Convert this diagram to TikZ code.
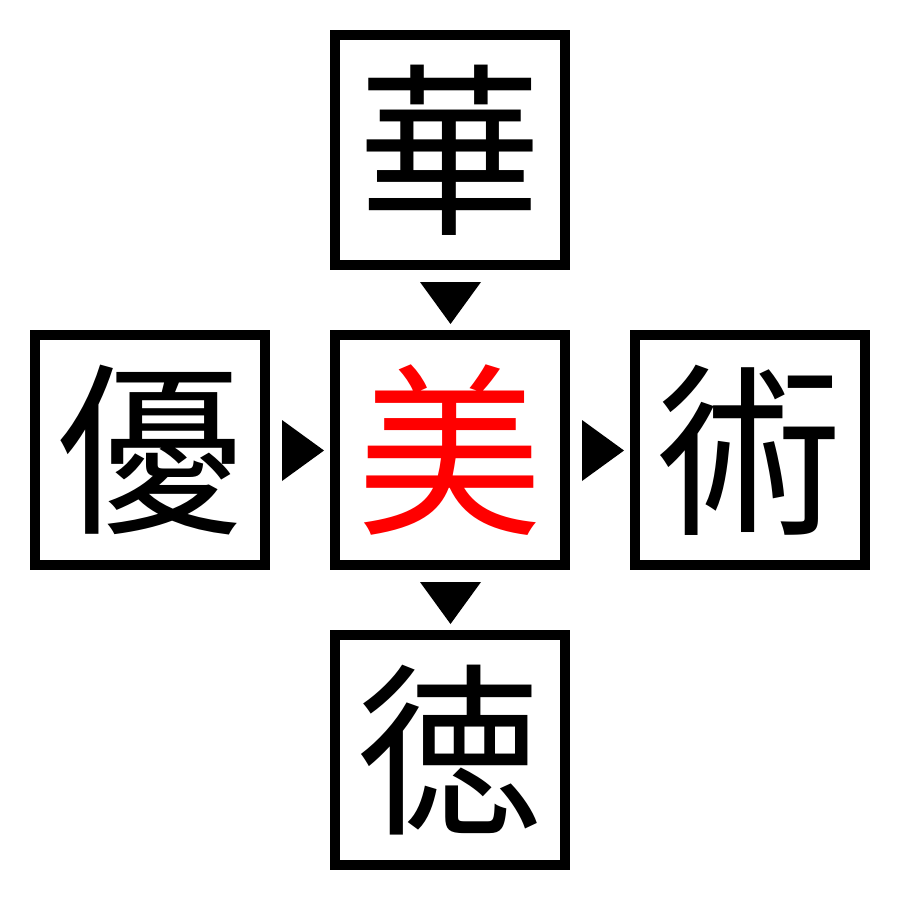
\documentclass[tikz,border=0pt]{standalone}
\usepackage{fontspec}
\usetikzlibrary{calc}
\newfontfamily\cjk{Noto Sans CJK JP}
\begin{document}
\begin{tikzpicture}[x=1pt,y=-1pt,
  charbox/.style={draw=black,line width=10pt,minimum size=230pt,inner sep=0pt,font=\cjk\fontsize{185pt}{185pt}\selectfont},
  tri/.style={fill=black,draw=none}]
\useasboundingbox (0,0) rectangle (900,900);
\node[charbox] (top) at (450,150) {華};
\node[charbox] (left) at (150,450) {優};
\node[charbox,text=red] (mid) at (450,450) {美};
\node[charbox] (right) at (750,450) {術};
\node[charbox] (bot) at (450,750) {徳};
\coordinate (a1) at ($(top.south)!0.5!(mid.north)$);
\coordinate (a2) at ($(mid.south)!0.5!(bot.north)$);
\coordinate (a3) at ($(left.east)!0.5!(mid.west)$);
\coordinate (a4) at ($(mid.east)!0.5!(right.west)$);
\fill[tri] ($(a1)+(-30,-18)$) -- ($(a1)+(31,-18)$) -- ($(a1)+(0.5,24)$) -- cycle;
\fill[tri] ($(a2)+(-30,-18)$) -- ($(a2)+(31,-18)$) -- ($(a2)+(0.5,24)$) -- cycle;
\fill[tri] ($(a3)+(-18,-30)$) -- ($(a3)+(-18,31)$) -- ($(a3)+(24,0.5)$) -- cycle;
\fill[tri] ($(a4)+(-18,-30)$) -- ($(a4)+(-18,31)$) -- ($(a4)+(24,0.5)$) -- cycle;
\end{tikzpicture}
\end{document}
